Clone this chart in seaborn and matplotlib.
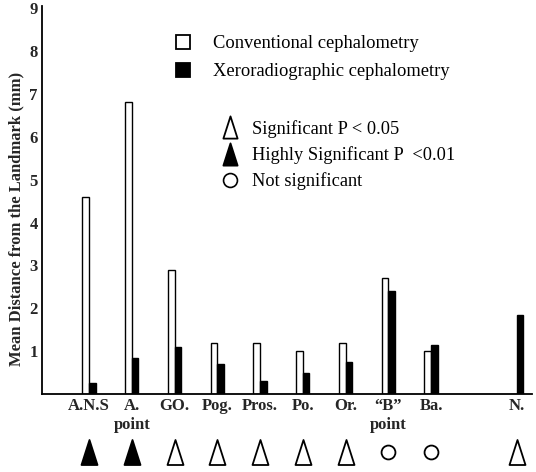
import numpy as np
import pandas as pd
import matplotlib
matplotlib.use('Agg')
import matplotlib.pyplot as plt
import seaborn as sns
from matplotlib.lines import Line2D
from matplotlib.path import Path

# values (mm)
landmarks = ['A.N.S', 'A.\npoint', 'GO.', 'Pog.', 'Pros.', 'Po.', 'Or.',
             '\u201cB\u201d\npoint', 'Ba.', 'N.']
conventional = [4.6, 6.8, 2.9, 1.2, 1.2, 1.0, 1.2, 2.7, 1.0, 0.0]
xero = [0.25, 0.85, 1.1, 0.7, 0.3, 0.5, 0.75, 2.4, 1.15, 1.85]
significance = ['high', 'high', 'sig', 'sig', 'sig', 'sig', 'sig', 'ns', 'ns', 'sig']

methods = ['Conventional cephalometry', 'Xeroradiographic cephalometry']
df = pd.DataFrame({
    'landmark': landmarks * 2,
    'method': [methods[0]] * len(landmarks) + [methods[1]] * len(landmarks),
    'value': conventional + xero,
})
# empty slot before N. to leave the gap seen in the original
order = landmarks[:9] + [''] + landmarks[9:]

sns.set_theme(style='white')
plt.rcParams['font.family'] = ['Liberation Serif', 'DejaVu Serif']
plt.rcParams['text.color'] = 'black'

fig = plt.figure(figsize=(5.36, 4.72), dpi=100)
ax = fig.add_axes([42 / 536, 78 / 472, 490 / 536, 388 / 472])

sns.barplot(data=df, x='landmark', y='value', hue='method', order=order,
            hue_order=methods, palette={methods[0]: 'white', methods[1]: 'black'},
            width=0.31, gap=0, edgecolor='black', linewidth=1.0,
            legend=False, ax=ax)

ax.set_xlim(-1.1, 10.36)
ax.set_ylim(0, 9.05)
ax.set_yticks(range(1, 10))
ax.tick_params(axis='y', length=2, width=1, direction='out', labelsize=12, pad=1)
ax.tick_params(axis='x', length=0, labelsize=12, pad=3)
for lab in ax.get_xticklabels() + ax.get_yticklabels():
    lab.set_fontweight('bold')
ax.set_xlabel('')
ax.set_ylabel('Mean Distance from the Landmark (mm)', fontsize=12, fontweight='bold')
ax.yaxis.set_label_coords(-0.036, 0.45)
sns.despine(ax=ax)
for s in ['left', 'bottom']:
    ax.spines[s].set_linewidth(1.3)
    ax.spines[s].set_color('black')

# significance markers under each landmark
tri = Path([(-0.32, -0.5), (0.32, -0.5), (0, 0.5), (-0.32, -0.5)],
           [Path.MOVETO, Path.LINETO, Path.LINETO, Path.CLOSEPOLY])
xpos = [order.index(l) for l in landmarks]
styles = {'high': dict(marker=tri, mfc='black', ms=18),
          'sig': dict(marker=tri, mfc='white', ms=18),
          'ns': dict(marker='o', mfc='white', ms=10)}
for x, s in zip(xpos, significance):
    ax.plot(x, -1.36, linestyle='none', mec='black', mew=1.3,
            clip_on=False, **styles[s])

# legends
h1 = [Line2D([], [], ls='none', marker='s', ms=10, mfc='white', mec='black', mew=1.3),
      Line2D([], [], ls='none', marker='s', ms=10, mfc='black', mec='black', mew=1.3)]
leg1 = ax.legend(h1, methods, loc='upper left', frameon=False, fontsize=13.3,
                 bbox_to_anchor=(174 / 536, 1 - 35 / 472), bbox_transform=fig.transFigure,
                 borderpad=0, borderaxespad=0, handlelength=1.0, handletextpad=1.1,
                 labelspacing=0.6)
ax.add_artist(leg1)

sig_labels = ['Significant P < 0.05', 'Highly Significant P  <0.01', 'Not significant']
h2 = [Line2D([], [], ls='none', marker=tri, ms=16, mfc='white', mec='black', mew=1.3),
      Line2D([], [], ls='none', marker=tri, ms=16, mfc='black', mec='black', mew=1.3),
      Line2D([], [], ls='none', marker='o', ms=10, mfc='white', mec='black', mew=1.2)]
ax.legend(h2, sig_labels, loc='upper left', frameon=False, fontsize=13.2,
          bbox_to_anchor=(222 / 536, 1 - 120 / 472), bbox_transform=fig.transFigure,
          borderpad=0, borderaxespad=0, handlelength=0.9, handletextpad=0.75,
          labelspacing=0.45)

fig.savefig('out.png', dpi=100)
